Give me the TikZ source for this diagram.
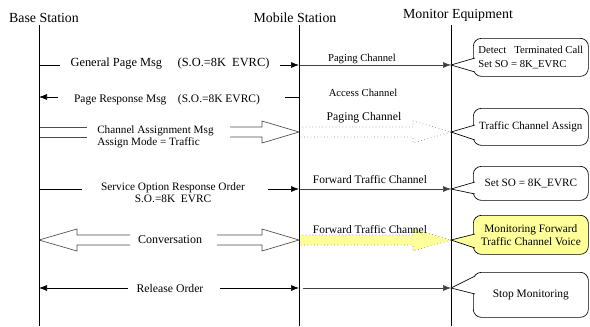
\documentclass[tikz,border=0pt]{standalone}
\usepackage{fontspec}
\setmainfont{Liberation Serif}
\usetikzlibrary{arrows.meta}

\definecolor{noteyellow}{RGB}{255,255,153}

\newcommand{\fs}[1]{\fontsize{#1}{9}\selectfont}

\begin{document}
\begin{tikzpicture}[x=0.75pt, y=-0.75pt, font=\fs{8.6},
  title/.style = {font=\fontsize{10.4}{12}\selectfont, inner sep=0pt},
  lbl/.style = {inner sep=0pt},
  life/.style = {line width=0.6pt},
  msg/.style = {-{Latex[length=6pt, width=4.5pt]}, line width=0.5pt},
  chan/.style = {msg, draw=black!75},
  fat/.style = {line width=0.5pt, draw=black!70},
  note/.style = {draw, line width=0.5pt, rounded corners=6pt, fill=white, anchor=north west,
                 minimum width=86.25pt, inner sep=2pt},
  wedge/.style = {line width=0.5pt}]
\useasboundingbox (0,0) rectangle (590,326);

% lifelines
\node[title] (bs) at (44,18) {Base Station};
\node[title] (ms) at (295,18) {Mobile Station};
\node[title] (me) at (458,15) {Monitor Equipment};
\coordinate (bsT) at (39,25);  \coordinate (bsB) at (39,326);
\coordinate (msT) at (299,25); \coordinate (msB) at (299,326);
\coordinate (meT) at (451,25); \coordinate (meB) at (451,326);

% rows on the lifelines
\foreach \r/\y in {1/65, 2/97, 3/132, 4/189, 5/240, 6/288} {
  \coordinate (b\r) at (39,\y);
  \coordinate (m\r) at (299,\y);
  \coordinate (e\r) at (451,\y);
}

% general page
\node[lbl, font=\fs{9.3}] (gp) at (170,64) {General Page Msg\quad\ (S.O.=8K\ \ EVRC)};
\coordinate (gpL) at (60,65); \coordinate (gpR) at (280,65);
\draw[line width=0.5pt] (b1) -- (gpL);
\draw[msg] (gpR) -- (m1);
\node[lbl, font=\fs{8}] (pc1) at (362,59) {Paging Channel};
\draw[chan] (m1) -- (e1);

% page response
\node[lbl] (pr) at (167,100) {Page Response Msg\quad(S.O.=8K EVRC)};
\coordinate (prL) at (58,97); \coordinate (prR) at (285,97);
\draw[msg] (prL) -- (b2);
\draw[line width=0.5pt] (m2) -- (prR);
\node[lbl, font=\fs{8}] (ac) at (363,93) {Access Channel};

% channel assignment
\node[lbl, align=left, anchor=west, font=\fs{8.4}] (ca) at (97,137) {Channel Assignment Msg\\Assign Mode = Traffic};
\draw[fat] (b3) ++(0,-5) -- ++(48,0) (b3) ++(0,5) -- ++(48,0);
\draw[fat] (m3) ++(-69,-5) -- ++(32,0) -- ++(0,-6) -- (m3) -- ++(-37,11) -- ++(0,-6) -- ++(-32,0);
\draw[fat, draw=gray, dotted] (m3) ++(0,-5) -- ++(114,0) -- ++(0,-6) -- (e3) -- ++(-38,11) -- ++(0,-6) -- ++(-114,0);
\node[lbl, font=\fs{8.8}] (pc2) at (364,118) {Paging Channel};

% service option response
\node[lbl, align=center, font=\fs{8.5}] (so) at (173,193) {Service Option Response Order\\S.O.=8K\ \ EVRC};
\coordinate (soL) at (82,189); \coordinate (soR) at (268,189);
\draw[line width=0.5pt] (b4) -- (soL);
\draw[msg] (soR) -- (m4);
\node[lbl] (ft1) at (370,180) {Forward Traffic Channel};
\draw[chan] (m4) -- (e4);

% conversation
\node[lbl, font=\fs{9}] (cv) at (170,240) {Conversation};
\draw[fat] (b5) -- ++(38,-11) -- ++(0,6) -- ++(53,0);
\draw[fat] (b5) -- ++(38,11) -- ++(0,-6) -- ++(53,0);
\draw[fat, draw=gray, dotted, fill=noteyellow] (m5) ++(0,-5) -- ++(114,0) -- ++(0,-6) -- (e5) -- ++(-38,11) -- ++(0,-6) -- ++(-114,0) -- cycle;
\draw[fat] (m5) ++(-82,-5) -- ++(45,0) -- ++(0,-6) -- (m5) -- ++(-37,11) -- ++(0,-6) -- ++(-45,0);
\node[lbl] (ft2) at (370,230) {Forward Traffic Channel};

% release order
\node[lbl, font=\fs{8.8}] (ro) at (170,288) {Release Order};
\coordinate (roL) at (128,288); \coordinate (roR) at (220,288);
\draw[msg] (roL) -- (b6);
\draw[msg] (roR) -- (m6);
\draw[chan, shorten <=3pt] (m6) -- (e6);

\draw[life] (bsT) -- (bsB);
\draw[life] (msT) -- (msB);
\draw[life] (meT) -- (meB);

% notes on the monitor side
\node[note, minimum height=28.5pt, align=left, font=\fontsize{8}{10.5}\selectfont] (n1) at (473,38)
  {Detect\ \ \ Terminated Call\\Set SO = 8K\_EVRC};
\node[note, minimum height=27.75pt, font=\fs{8.3}] (n2) at (473,108) {Traffic Channel Assign};
\node[note, minimum height=25.5pt, font=\fs{8.4}] (n3) at (473,166) {Set SO = 8K\_EVRC};
\node[note, minimum height=29.25pt, fill=noteyellow, align=center, font=\fontsize{8.5}{10}\selectfont] (n4) at (473,215)
  {Monitoring Forward\\Traffic Channel Voice};
\node[note, minimum height=33.75pt] (n5) at (473,272) {Stop Monitoring};

\foreach \n/\t/\u/\l/\c in {1/1/58/72/white, 2/3/125/140/white, 3/4/182/194/white,
                           4/5/234/248/noteyellow, 5/6/276/294/white} {
  \coordinate (w\n a) at (475,\u);
  \coordinate (w\n b) at (475,\l);
  \fill[\c] (w\n a) -- (e\t) -- (w\n b) -- cycle;
  \draw[wedge] (w\n a) -- (e\t) -- (w\n b);
}
\end{tikzpicture}
\end{document}
